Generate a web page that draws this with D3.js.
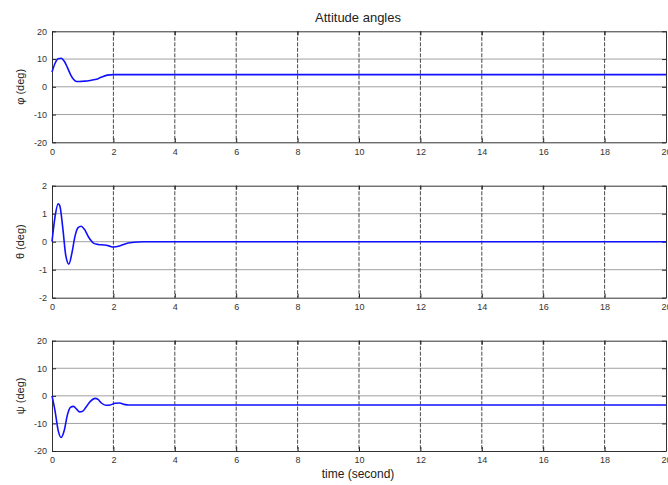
<!DOCTYPE html>
<html>
<head>
<meta charset="utf-8">
<script src="https://cdn.jsdelivr.net/npm/d3@7"></script>
<style>
  body { margin: 0; background: #fff; }
  svg { display: block; }
  text { font-family: "Liberation Sans", Arial, sans-serif; }
</style>
</head>
<body>
<svg width="668" height="485"></svg>
<script>
// время (с) и значения углов
const timeTicks = [0, 2, 4, 6, 8, 10, 12, 14, 16, 18, 20];

const angle1 = [
  [0, 5.3], [0.1, 8.5], [0.2, 10.1], [0.3, 10.3], [0.4, 9.2], [0.5, 7.0],
  [0.6, 4.5], [0.7, 2.7], [0.8, 1.9], [0.9, 1.9], [1.0, 2.0], [1.2, 2.2],
  [1.4, 2.6], [1.6, 3.4], [1.8, 4.2], [2.0, 4.4], [3, 4.4], [20, 4.4]
];
const angle2 = [
  [0, 0], [0.1, 0.9], [0.2, 1.35], [0.25, 1.3], [0.35, 0.5], [0.45, -0.5],
  [0.55, -0.8], [0.65, -0.4], [0.75, 0.2], [0.85, 0.5], [0.95, 0.55],
  [1.05, 0.45], [1.2, 0.15], [1.35, -0.05], [1.5, -0.1], [1.7, -0.12],
  [1.85, -0.15], [2.0, -0.19], [2.2, -0.15], [2.4, -0.07], [2.6, -0.03],
  [3.0, 0], [20, 0]
];
const angle3 = [
  [0, 0], [0.1, -5.5], [0.2, -12.5], [0.3, -15.1], [0.4, -12.5], [0.5, -7.0],
  [0.6, -4.2], [0.7, -3.8], [0.8, -4.8], [0.9, -5.8], [1.0, -5.6], [1.1, -4.2],
  [1.25, -2.0], [1.4, -0.9], [1.5, -1.3], [1.6, -2.5], [1.75, -3.4],
  [1.9, -3.3], [2.05, -2.7], [2.2, -2.6], [2.35, -3.1], [2.5, -3.3], [20, -3.3]
];

const ticks20 = [-20, -10, 0, 10, 20];
const ticks2 = [-2, -1, 0, 1, 2];

const panels = [
  { data: angle1, domain: [-20, 20], ticks: ticks20, label: "φ (deg)", top: 31.3, bottom: 142.3 },
  { data: angle2, domain: [-2, 2], ticks: ticks2, label: "θ (deg)", top: 185.7, bottom: 297.7 },
  { data: angle3, domain: [-20, 20], ticks: ticks20, label: "ψ (deg)", top: 340.7, bottom: 451 }
];

const svg = d3.select("svg");
const left = 52, right = 666;

const scX = d3.scaleLinear().domain([0, 20]).range([left, right]);
const fmt = d => String(d); // обычный дефис вместо знака минус

panels.forEach(p => {
  const scY = d3.scaleLinear().domain(p.domain).range([p.bottom, p.top]);
  const g = svg.append("g");

  // горизонтальная сетка
  g.selectAll("line.hgrid")
    .data(p.ticks.slice(1, -1))
    .enter()
    .append("line")
    .attr("class", "hgrid")
    .attr("x1", left).attr("x2", right)
    .attr("y1", d => scY(d)).attr("y2", d => scY(d))
    .style("stroke", "#a0a0a0")
    .style("stroke-width", 1);

  // вертикальная сетка (пунктир)
  g.selectAll("line.vgrid")
    .data(timeTicks.slice(1, -1))
    .enter()
    .append("line")
    .attr("class", "vgrid")
    .attr("x1", d => scX(d)).attr("x2", d => scX(d))
    .attr("y1", p.top).attr("y2", p.bottom)
    .style("stroke", "#333")
    .style("stroke-width", 0.9)
    .style("stroke-dasharray", "4,1.5");

  // оси
  const axisX = d3.axisBottom(scX).tickValues(timeTicks).tickFormat(fmt).tickSizeInner(-4).tickSizeOuter(0).tickPadding(6);
  const axisY = d3.axisLeft(scY).tickValues(p.ticks).tickFormat(fmt).tickSizeInner(-4).tickSizeOuter(0).tickPadding(5);
  const axisX2 = d3.axisTop(scX).tickValues(timeTicks).tickSizeInner(-4).tickSizeOuter(0).tickFormat("");
  const axisY2 = d3.axisRight(scY).tickValues(p.ticks).tickSizeInner(-4).tickSizeOuter(0).tickFormat("");

  [[axisX, `translate(0,${p.bottom})`], [axisY, `translate(${left},0)`],
   [axisX2, `translate(0,${p.top})`], [axisY2, `translate(${right},0)`]].forEach(([ax, tr]) => {
    const a = g.append("g").attr("transform", tr).call(ax);
    a.select(".domain").style("stroke", "#333").style("stroke-width", 1);
    a.selectAll(".tick line").style("stroke", "#222");
    a.selectAll("text").style("font-size", "9px").style("fill", "#333");
  });

  // кривая
  const line = d3.line()
    .x(d => scX(d[0]))
    .y(d => scY(d[1]))
    .curve(d3.curveMonotoneX);

  g.append("path")
    .datum(p.data)
    .attr("d", line)
    .style("fill", "none")
    .style("stroke", "#1010ff")
    .style("stroke-width", 1.6);

  // подпись оси OY
  g.append("text")
    .attr("transform", `translate(24,${(p.top + p.bottom) / 2}) rotate(-90)`)
    .attr("text-anchor", "middle")
    .style("font-size", "11px")
    .style("fill", "#222")
    .text(p.label);
});

svg.append("text")
  .attr("x", 358).attr("y", 22)
  .attr("text-anchor", "middle")
  .style("font-size", "13px")
  .style("fill", "#222")
  .text("Attitude angles");

svg.append("text")
  .attr("x", 358).attr("y", 478)
  .attr("text-anchor", "middle")
  .style("font-size", "12px")
  .style("fill", "#222")
  .text("time (second)");
</script>
</body>
</html>
